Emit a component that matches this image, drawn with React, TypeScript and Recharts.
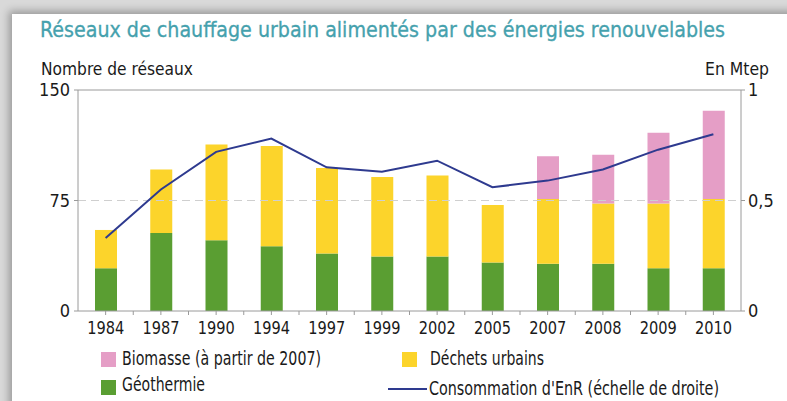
import { ComposedChart, Bar, Line, XAxis, YAxis, ReferenceLine } from "recharts";

const years = ["1984", "1987", "1990", "1994", "1997", "1999", "2002", "2005", "2007", "2008", "2009", "2010"];
const geothermie = [29, 53, 48, 44, 39, 37, 37, 33, 32, 32, 29, 29];
const dechets = [26, 43, 65, 68, 58, 54, 55, 39, 44, 41, 44, 47];
const biomasse = [null, null, null, null, null, null, null, null, 29, 33, 48, 60];
const consommation = [0.33, 0.55, 0.72, 0.78, 0.65, 0.63, 0.68, 0.56, 0.59, 0.64, 0.73, 0.8];

const leftTicks = [0, 75, 150];
const rightTicks = [0, 0.5, 1];

const COLORS = {
  biomasse: "#E59EC6",
  dechets: "#FCD42B",
  geothermie: "#5A9E32",
  line: "#2E3A8F",
  title: "#45A1AD",
  axis: "#9a9a9a",
  text: "#1a1a1a",
};

const FONT = '"DejaVu Sans Condensed", "Liberation Sans Narrow", "Noto Sans", sans-serif';

const data = years.map((year, i) => ({
  year,
  geothermie: geothermie[i],
  dechets: dechets[i],
  biomasse: biomasse[i],
  consommation: consommation[i],
}));

const CHART_W = 787;
const MARGIN = { top: 90, right: 6, bottom: 60, left: 38 };
const AXIS_W = 40;
const PLOT_W = CHART_W - MARGIN.left - MARGIN.right - 2 * AXIS_W;
const BAND = PLOT_W / years.length;

const XTick = (props: any) => {
  const { x, y, payload, index } = props;
  return (
    <g>
      {index > 0 && (
        <line x1={x - BAND / 2} x2={x - BAND / 2} y1={y - 6} y2={y - 2} stroke={COLORS.axis} />
      )}
      <text
        x={x}
        y={y}
        dy={17}
        textAnchor="middle"
        fill={COLORS.text}
        fontSize={18}
        fontFamily={FONT}
        textLength={37}
        lengthAdjust="spacingAndGlyphs"
      >
        {payload.value}
      </text>
    </g>
  );
};

const fmtRight = (v: number) => String(v).replace(".", ",");

const Texts = () => (
  <svg width={787} height={401} style={{ position: "absolute", left: 0, top: 0, pointerEvents: "none" }}>
    <text
      x={40}
      y={37}
      fontFamily={FONT}
      fontSize={21}
      fill={COLORS.title}
      stroke={COLORS.title}
      strokeWidth={0.3}
      textLength={685}
      lengthAdjust="spacingAndGlyphs"
    >
      Réseaux de chauffage urbain alimentés par des énergies renouvelables
    </text>
    <text x={41} y={75} fontFamily={FONT} fontSize={17} fill={COLORS.text} textLength={152} lengthAdjust="spacingAndGlyphs">
      Nombre de réseaux
    </text>
    <text x={705} y={75} fontFamily={FONT} fontSize={17} fill={COLORS.text} textLength={64} lengthAdjust="spacingAndGlyphs">
      En Mtep
    </text>

    <rect x={101} y={352} width={15} height={15} fill={COLORS.biomasse} />
    <text x={122} y={365} fontFamily={FONT} fontSize={19} fill={COLORS.text} textLength={199} lengthAdjust="spacingAndGlyphs">
      Biomasse (à partir de 2007)
    </text>
    <rect x={101} y={380} width={15} height={15} fill={COLORS.geothermie} />
    <text x={122} y={391} fontFamily={FONT} fontSize={19} fill={COLORS.text} textLength={83} lengthAdjust="spacingAndGlyphs">
      Géothermie
    </text>
    <rect x={402} y={352} width={15} height={15} fill={COLORS.dechets} />
    <text x={430} y={365} fontFamily={FONT} fontSize={19} fill={COLORS.text} textLength={114} lengthAdjust="spacingAndGlyphs">
      Déchets urbains
    </text>
    <line x1={388} x2={427} y1={389} y2={389} stroke={COLORS.line} strokeWidth={2} />
    <text x={429} y={395} fontFamily={FONT} fontSize={19} fill={COLORS.text} textLength={290} lengthAdjust="spacingAndGlyphs">
      Consommation d'EnR (échelle de droite)
    </text>
  </svg>
);

export default function App() {
  return (
    <div style={{ position: "absolute", left: 0, top: 0, width: 787, height: 401, overflow: "hidden", background: "#d9d9d9" }}>
      <div
        style={{
          position: "absolute",
          left: 12,
          top: 14,
          width: 800,
          height: 420,
          background: "#fff",
          boxShadow: "0 0 8px 3px rgba(0,0,0,0.3)",
        }}
      />
      <div style={{ position: "absolute", left: 0, top: 0 }}>
        <ComposedChart width={CHART_W} height={401} data={data} margin={MARGIN}>
          <XAxis
            dataKey="year"
            tick={<XTick />}
            tickSize={4}
            tickMargin={2}
            stroke={COLORS.axis}
            tickLine={{ stroke: COLORS.axis }}
            interval={0}
            height={30}
          />
          <YAxis
            yAxisId="left"
            domain={[0, 150]}
            ticks={leftTicks}
            width={AXIS_W}
            stroke={COLORS.axis}
            tickSize={4}
            tickMargin={4}
            tick={{ fill: COLORS.text, fontSize: 18, fontFamily: FONT }}
          />
          <YAxis
            yAxisId="right"
            orientation="right"
            domain={[0, 1]}
            ticks={rightTicks}
            tickFormatter={fmtRight}
            width={AXIS_W}
            stroke={COLORS.axis}
            tickSize={4}
            tickMargin={3}
            tick={{ fill: COLORS.text, fontSize: 18, fontFamily: FONT }}
          />
          <ReferenceLine yAxisId="left" y={75} stroke="#cfcfcf" strokeDasharray="8 5" />
          <ReferenceLine yAxisId="left" y={150} stroke={COLORS.axis} />
          <Bar yAxisId="left" dataKey="geothermie" stackId="a" fill={COLORS.geothermie} barSize={22} isAnimationActive={false} />
          <Bar yAxisId="left" dataKey="dechets" stackId="a" fill={COLORS.dechets} barSize={22} isAnimationActive={false} />
          <Bar yAxisId="left" dataKey="biomasse" stackId="a" fill={COLORS.biomasse} barSize={22} isAnimationActive={false} />
          <Line
            yAxisId="right"
            dataKey="consommation"
            type="linear"
            stroke={COLORS.line}
            strokeWidth={2}
            dot={false}
            isAnimationActive={false}
          />
        </ComposedChart>
      </div>
      <Texts />
    </div>
  );
}
